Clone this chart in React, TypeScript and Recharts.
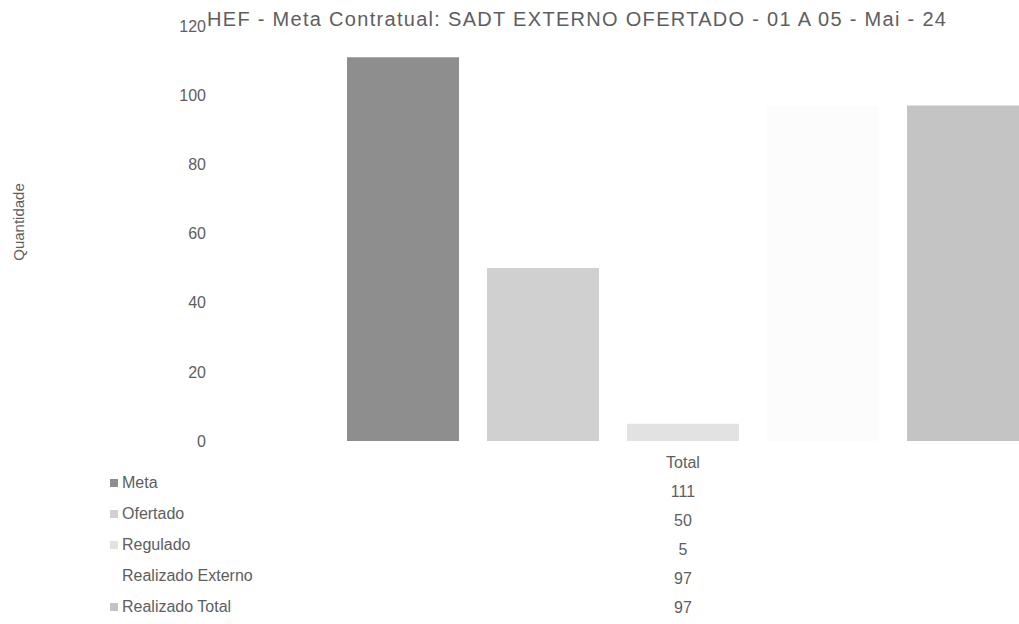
import { BarChart, Bar, XAxis, YAxis } from 'recharts'

const categories = ['Total']
const seriesNames = ['Meta', 'Ofertado', 'Regulado', 'Realizado Externo', 'Realizado Total']
const seriesValues = [111, 50, 5, 97, 97]
const seriesColours = ['#8e8e8e', '#d0d0d0', '#e2e2e2', '#fcfcfc', '#c4c4c4']
const yTicks = [0, 20, 40, 60, 80, 100, 120]

const title = 'HEF - Meta Contratual: SADT EXTERNO OFERTADO - 01 A 05 - Mai - 24'
const font = '"Liberation Sans", Arial, sans-serif'
const textColour = '#5e5e5e'

const data = categories.map((name) => {
  const row: Record<string, string | number> = { name }
  seriesNames.forEach((s, i) => {
    row[s] = seriesValues[i]
  })
  return row
})

export default function App() {
  return (
    <div
      style={{
        position: 'absolute',
        left: 0,
        top: 0,
        width: 1019,
        height: 624,
        overflow: 'hidden',
        background: '#fff',
        fontFamily: font,
        color: textColour,
      }}
    >
      <BarChart
        width={1156}
        height={471}
        data={data}
        margin={{ top: 26, right: 4, left: 0, bottom: 0 }}
        barSize={112}
        barGap={28}
        barCategoryGap={131}
      >
        <XAxis
          dataKey="name"
          axisLine={false}
          tickLine={false}
          tickMargin={10}
          height={30}
          tick={{ fontSize: 16, fill: textColour, fontFamily: font }}
        />
        <YAxis
          width={214}
          domain={[0, 120]}
          ticks={yTicks}
          axisLine={false}
          tickLine={false}
          tick={{ fontSize: 16, fill: textColour, fontFamily: font }}
          label={{
            content: () => (
              <text
                transform="translate(24,222) rotate(-90)"
                textAnchor="middle"
                fontSize={15}
                fill={textColour}
                fontFamily={font}
              >
                Quantidade
              </text>
            ),
          }}
        />
        {seriesNames.map((s, i) => (
          <Bar
            key={s}
            dataKey={s}
            fill={seriesColours[i]}
            isAnimationActive={false}
          />
        ))}
      </BarChart>

      <div
        style={{
          position: 'absolute',
          left: 207,
          top: 8,
          fontSize: 20,
          letterSpacing: 1.3,
          whiteSpace: 'nowrap',
        }}
      >
        {title}
      </div>

      {seriesNames.map((s, i) => (
        <div key={s}>
          <div
            style={{
              position: 'absolute',
              left: 110,
              top: 474 + i * 31,
              fontSize: 16,
              whiteSpace: 'nowrap',
              display: 'flex',
              alignItems: 'center',
            }}
          >
            <span
              style={{
                display: 'inline-block',
                width: 8,
                height: 8,
                marginRight: 4,
                background: i === 3 ? 'transparent' : seriesColours[i],
              }}
            />
            {s}
          </div>
          <div
            style={{
              position: 'absolute',
              left: 643,
              width: 80,
              top: 483 + i * 29,
              fontSize: 16,
              textAlign: 'center',
            }}
          >
            {seriesValues[i]}
          </div>
        </div>
      ))}
    </div>
  )
}
